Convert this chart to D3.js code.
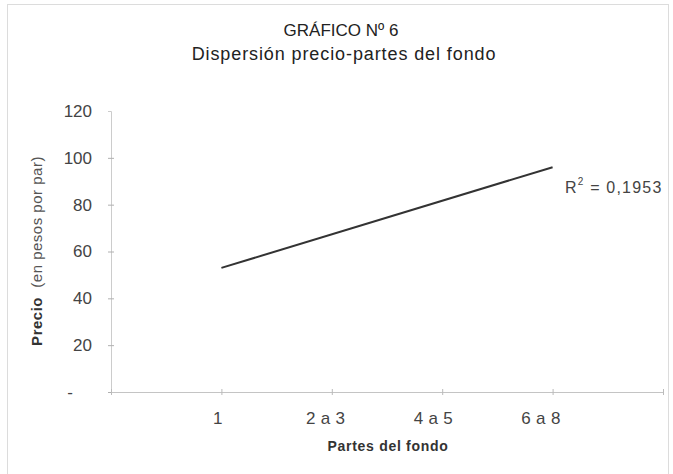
<!DOCTYPE html>
<html><head><meta charset="utf-8">
<script src="https://cdn.jsdelivr.net/npm/d3@7"></script>
<style>
body{margin:0;background:#fff;}
svg{display:block;}
text{font-family:"Liberation Sans",Arial,Helvetica,sans-serif;}
</style></head>
<body>
<svg id="chart" width="673" height="474"></svg>
<script>
// Data
const categories = ["1", "2 a 3", "4 a 5", "6 a 8"];
const trendX = [1, 4];
const trendY = [53, 96];
const yTicks = [0, 20, 40, 60, 80, 100, 120];
const xTicks = [0, 1, 2, 3, 4, 5];
const rSquared = "0,1953";
const title1 = "GRÁFICO Nº 6";
const title2 = "Dispersión precio-partes del fondo";
const xTitle = "Partes del fondo";
const yTitleBold = "Precio";
const yTitleRest = "  (en pesos por par)";

const svg = d3.select("#chart");

// frame
svg.append("rect").attr("x", 7.5).attr("y", 4.5).attr("width", 661).attr("height", 475)
  .attr("fill", "none").attr("stroke", "#dcdcdc").attr("stroke-width", 1);

const x = d3.scaleLinear().domain([0, 5]).range([111, 663]);
const y = d3.scaleLinear().domain([0, 120]).range([392, 111]);
const xc = d3.scalePoint().domain(categories).range([218, 541]);

// titles
svg.append("text").attr("x", 341).attr("y", 36).attr("text-anchor", "middle")
  .attr("font-size", 17).attr("fill", "#222").text(title1);
svg.append("text").attr("x", 344).attr("y", 60).attr("text-anchor", "middle")
  .attr("font-size", 18).attr("letter-spacing", 0.9).attr("fill", "#222").text(title2);

// y axis
const yAxis = d3.axisLeft(y).tickValues(yTicks).tickSize(3)
  .tickFormat(d => d === 0 ? "-" : d);
const gy = svg.append("g").attr("transform", `translate(${x(0)},0)`).call(yAxis);
gy.select(".domain").attr("stroke", "#cccccc");
gy.selectAll(".tick line").attr("stroke", "#b0b0b0").attr("x2", 3).attr("x1", -3);
gy.selectAll(".tick text").attr("font-size", 17).attr("fill", "#444").attr("x", -19)
  .attr("font-family", "Liberation Sans, Arial, sans-serif");
gy.selectAll(".tick").filter(d => d === 0).select("text").attr("x", -38);
gy.selectAll(".tick").filter(d => d === 120).select("line").remove();

// x axis
const xAxis = d3.axisBottom(x).tickValues(xTicks).tickSize(3).tickFormat("");
const gx = svg.append("g").attr("transform", `translate(0,${y(0)})`).call(xAxis);
gx.select(".domain").attr("stroke", "#c4c4c4");
gx.selectAll(".tick line").attr("stroke", "#bbbbbb").attr("y1", -3).attr("y2", 3);

// category labels
svg.append("g").selectAll("text").data(categories).join("text")
  .attr("x", d => xc(d))
  .attr("y", 424)
  .attr("text-anchor", "middle")
  .attr("font-size", 17).attr("letter-spacing", 0.3).attr("fill", "#444")
  .text(d => d);

// axis titles
svg.append("text").attr("x", 388).attr("y", 451).attr("text-anchor", "middle")
  .attr("font-size", 14).attr("font-weight", "bold").attr("letter-spacing", 0.7)
  .attr("fill", "#333").text(xTitle);

const yt = svg.append("text").attr("transform", "translate(42,251) rotate(-90)")
  .attr("text-anchor", "middle").attr("font-size", 15).attr("letter-spacing", 0.5).attr("fill", "#555");
yt.append("tspan").attr("font-weight", "bold").attr("fill", "#333").text(yTitleBold);
yt.append("tspan").style("white-space", "pre").text(yTitleRest);

// trend line
const line = d3.line().x(d => x(d[0])).y(d => y(d[1]));
svg.append("path").datum(trendX.map((v, i) => [v, trendY[i]]))
  .attr("d", line).attr("fill", "none").attr("stroke", "#333").attr("stroke-width", 2);

// R^2 label
const rl = svg.append("text").attr("x", 565).attr("y", 193).attr("font-size", 16)
  .attr("letter-spacing", 1.2).attr("fill", "#444");
rl.append("tspan").text("R");
rl.append("tspan").attr("font-size", 10).attr("dy", -8).text("2");
rl.append("tspan").attr("dy", 8).style("white-space", "pre").text(" = " + rSquared);
</script>
</body></html>
